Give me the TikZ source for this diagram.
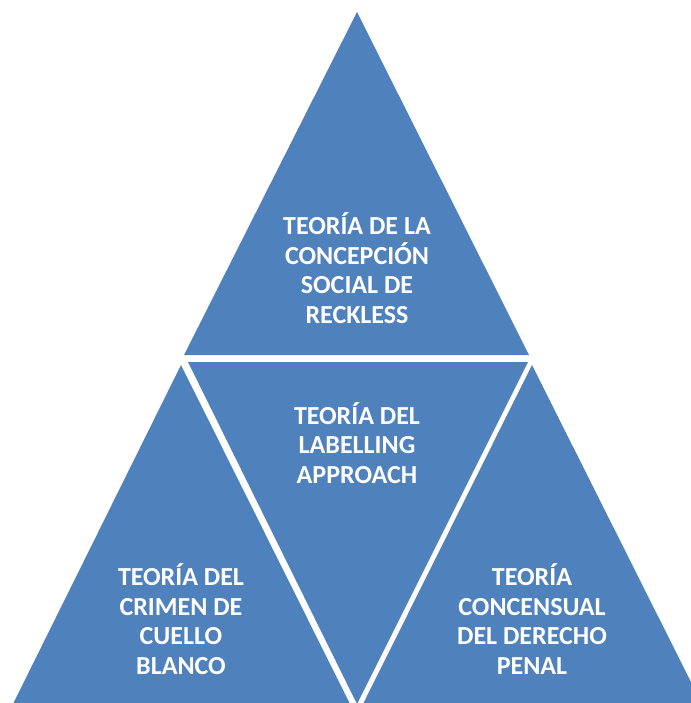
\documentclass[tikz,border=0pt]{standalone}
\usepackage{fontspec}
\setmainfont{Carlito}
\usepackage{tikz}
\usetikzlibrary{positioning}

\definecolor{officeblue}{RGB}{79,129,189}

\begin{document}
\begin{tikzpicture}[x=0.75pt, y=-0.75pt]
			\tikzstyle{Tri}		= [fill=officeblue, draw=none]
			\tikzstyle{Label}	= [align=center, text=white, font=\fontsize{19.5}{22.2}\selectfont\bfseries, inner sep=0pt]
			
			\useasboundingbox (0,0) rectangle (691,703);
			\clip (0,0) rectangle (691,703);
			
			% the four triangles
			\foreach \ax/\ay/\bx/\by/\cx/\cy in {357/12/184/355/529/355, 188/362/528/362/357/704, 181/365/13/704/350/704, 532/365/363/704/702/704}
				\fill [Tri] (\ax,\ay) -- (\bx,\by) -- (\cx,\cy) -- cycle;
			
			\node (reckless) at (357,268) [Label] {TEORÍA DE LA\\CONCEPCIÓN\\SOCIAL DE\\RECKLESS};
			\node (labelling) at (357,443) [Label] {TEORÍA DEL\\LABELLING\\APPROACH};
			\node (cuello) at (181,619) [Label] {TEORÍA DEL\\CRIMEN DE\\CUELLO\\BLANCO};
			\node (penal) at (532,619) [Label] {TEORÍA\\CONCENSUAL\\DEL DERECHO\\PENAL};
		\end{tikzpicture}
\end{document}
